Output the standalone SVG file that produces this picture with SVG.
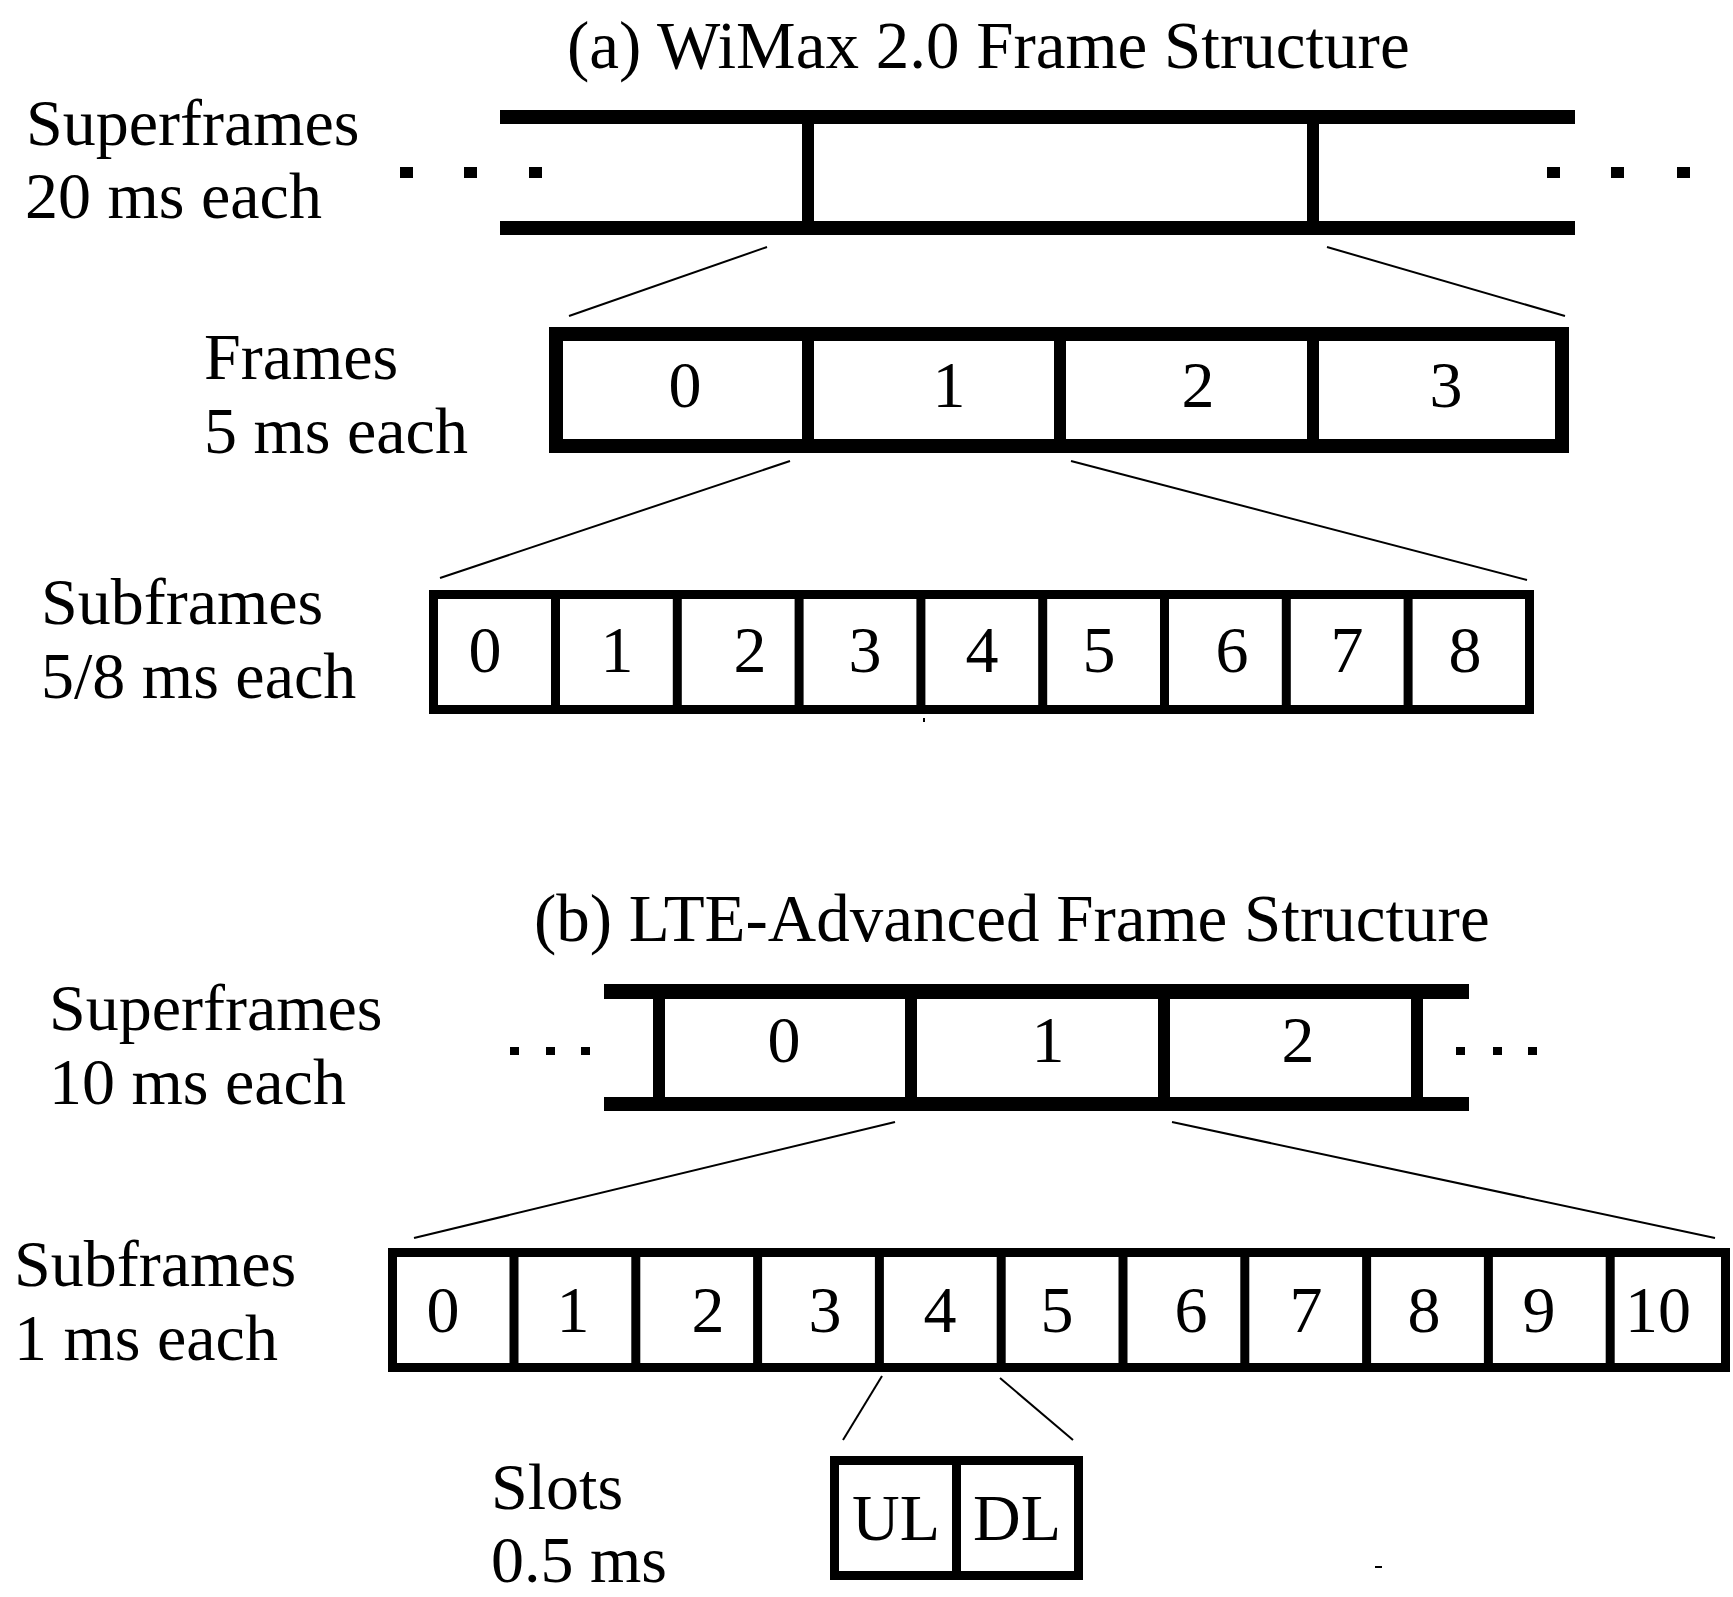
<svg xmlns="http://www.w3.org/2000/svg" width="1733" height="1597" viewBox="0 0 1733 1597">
<style>
text{font-family:"Liberation Serif","Times New Roman",serif;font-size:66px;fill:#000}
.ttl{font-size:67px}
.c{text-anchor:middle}
.bar{fill:#000}
.box{fill:none;stroke:#000}
.dv{stroke:#000}
.conn{stroke:#000;stroke-width:2;fill:none}
</style>
<rect width="1733" height="1597" fill="#fff"/>

<!-- (a) WiMax -->
<g id="title-a"><text class="ttl" x="567" y="68">(a) WiMax 2.0 Frame Structure</text></g>

<g id="a-superframes">
<text x="26" y="145">Superframes</text>
<text x="25" y="218">20 ms each</text>
<rect class="bar" x="500" y="110" width="1075" height="14"/>
<rect class="bar" x="500" y="221" width="1075" height="14"/>
<rect class="bar" x="802" y="117" width="12" height="110"/>
<rect class="bar" x="1307" y="117" width="12" height="110"/>
<rect class="bar" x="400" y="167" width="13" height="11"/>
<rect class="bar" x="464" y="167" width="13" height="11"/>
<rect class="bar" x="529" y="167" width="13" height="11"/>
<rect class="bar" x="1547" y="167" width="13" height="11"/>
<rect class="bar" x="1611" y="167" width="13" height="11"/>
<rect class="bar" x="1677" y="167" width="13" height="11"/>
</g>

<g id="a-frames">
<text x="204" y="379">Frames</text>
<text x="204" y="453">5 ms each</text>
<rect class="box" x="556" y="334" width="1006" height="112" stroke-width="14"/>
<line class="dv" x1="808" y1="334" x2="808" y2="446" stroke-width="12"/>
<line class="dv" x1="1060" y1="334" x2="1060" y2="446" stroke-width="12"/>
<line class="dv" x1="1313" y1="334" x2="1313" y2="446" stroke-width="12"/>
<text class="c" x="685" y="407">0</text>
<text class="c" x="949" y="407">1</text>
<text class="c" x="1198" y="407">2</text>
<text class="c" x="1446" y="407">3</text>
</g>

<g id="a-subframes">
<text x="41" y="624">Subframes</text>
<text x="41" y="698">5/8 ms each</text>
<rect class="box" x="433.5" y="594.5" width="1096" height="115" stroke-width="9"/>
<g class="dv" stroke-width="9">
<line x1="555.5" y1="594" x2="555.5" y2="710"/>
<line x1="677.3" y1="594" x2="677.3" y2="710"/>
<line x1="799.1" y1="594" x2="799.1" y2="710"/>
<line x1="920.9" y1="594" x2="920.9" y2="710"/>
<line x1="1042.7" y1="594" x2="1042.7" y2="710"/>
<line x1="1164.5" y1="594" x2="1164.5" y2="710"/>
<line x1="1286.3" y1="594" x2="1286.3" y2="710"/>
<line x1="1408.1" y1="594" x2="1408.1" y2="710"/>
</g>
<text class="c" x="485" y="672">0</text>
<text class="c" x="617" y="672">1</text>
<text class="c" x="750" y="672">2</text>
<text class="c" x="865" y="672">3</text>
<text class="c" x="982" y="672">4</text>
<text class="c" x="1099" y="672">5</text>
<text class="c" x="1232" y="672">6</text>
<text class="c" x="1347" y="672">7</text>
<text class="c" x="1465" y="672">8</text>
<rect class="bar" x="923" y="718" width="2" height="4"/>
</g>

<!-- (b) LTE-Advanced -->
<g id="title-b"><text class="ttl" x="534" y="941">(b) LTE-Advanced Frame Structure</text></g>

<g id="b-superframes">
<text x="49" y="1030">Superframes</text>
<text x="49" y="1104">10 ms each</text>
<rect class="bar" x="604" y="984" width="865" height="15"/>
<rect class="bar" x="604" y="1097" width="865" height="14"/>
<rect class="bar" x="653" y="990" width="12" height="114"/>
<rect class="bar" x="905" y="990" width="12" height="114"/>
<rect class="bar" x="1158" y="990" width="12" height="114"/>
<rect class="bar" x="1411" y="990" width="12" height="114"/>
<text class="c" x="784" y="1062">0</text>
<text class="c" x="1048" y="1062">1</text>
<text class="c" x="1298" y="1062">2</text>
<rect class="bar" x="510" y="1047" width="9" height="8"/>
<rect class="bar" x="546" y="1047" width="9" height="8"/>
<rect class="bar" x="581" y="1047" width="9" height="8"/>
<rect class="bar" x="1456" y="1047" width="9" height="8"/>
<rect class="bar" x="1493" y="1047" width="9" height="8"/>
<rect class="bar" x="1528" y="1047" width="9" height="8"/>
</g>

<g id="b-subframes">
<text x="14" y="1286">Subframes</text>
<text x="14" y="1360">1 ms each</text>
<rect class="box" x="392.5" y="1252.5" width="1333" height="115" stroke-width="9"/>
<g class="dv" stroke-width="9">
<line x1="514" y1="1252" x2="514" y2="1368"/>
<line x1="635.8" y1="1252" x2="635.8" y2="1368"/>
<line x1="757.6" y1="1252" x2="757.6" y2="1368"/>
<line x1="879.4" y1="1252" x2="879.4" y2="1368"/>
<line x1="1001.2" y1="1252" x2="1001.2" y2="1368"/>
<line x1="1123" y1="1252" x2="1123" y2="1368"/>
<line x1="1244.8" y1="1252" x2="1244.8" y2="1368"/>
<line x1="1366.6" y1="1252" x2="1366.6" y2="1368"/>
<line x1="1488.4" y1="1252" x2="1488.4" y2="1368"/>
<line x1="1610.2" y1="1252" x2="1610.2" y2="1368"/>
</g>
<text class="c" x="443" y="1332">0</text>
<text class="c" x="573" y="1332">1</text>
<text class="c" x="708" y="1332">2</text>
<text class="c" x="825" y="1332">3</text>
<text class="c" x="940" y="1332">4</text>
<text class="c" x="1057" y="1332">5</text>
<text class="c" x="1191" y="1332">6</text>
<text class="c" x="1306" y="1332">7</text>
<text class="c" x="1424" y="1332">8</text>
<text class="c" x="1539" y="1332">9</text>
<text class="c" x="1658" y="1332">10</text>
</g>

<g id="b-slots">
<text x="491" y="1509">Slots</text>
<text x="491" y="1582">0.5 ms</text>
<rect class="box" x="834.5" y="1460.5" width="244" height="115" stroke-width="9"/>
<line class="dv" x1="956.5" y1="1460" x2="956.5" y2="1576" stroke-width="9"/>
<text class="c" x="896" y="1540">UL</text>
<text class="c" x="1017" y="1540">DL</text>
<rect class="bar" x="1375" y="1566" width="7" height="2"/>
</g>

<g id="connectors">
<line class="conn" x1="767" y1="247" x2="569" y2="316"/>
<line class="conn" x1="1327" y1="247" x2="1565" y2="316"/>
<line class="conn" x1="790" y1="461" x2="440" y2="578"/>
<line class="conn" x1="1071" y1="461" x2="1527" y2="580"/>
<line class="conn" x1="895" y1="1122" x2="414" y2="1238"/>
<line class="conn" x1="1172" y1="1122" x2="1715" y2="1238"/>
<line class="conn" x1="882" y1="1376" x2="843" y2="1440"/>
<line class="conn" x1="1000" y1="1378" x2="1073" y2="1440"/>
</g>
</svg>
